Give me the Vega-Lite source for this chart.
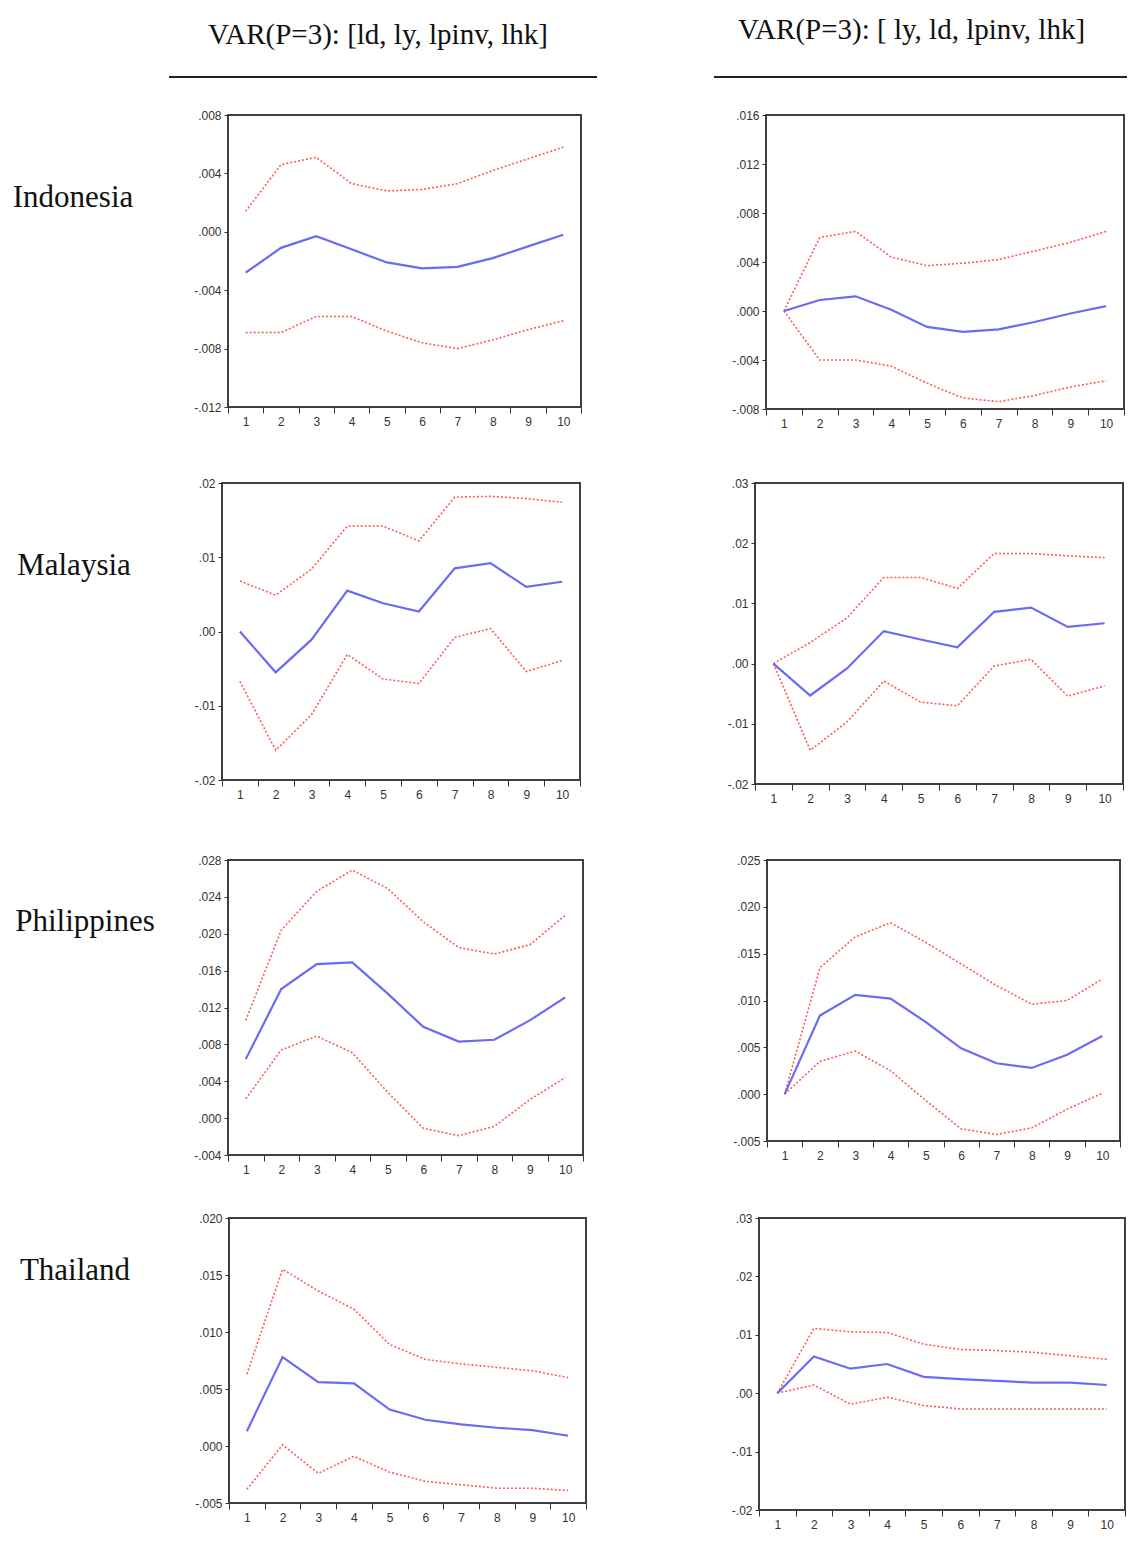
{
"$schema":"https://vega.github.io/schema/vega-lite/v6.json",
"padding":0,
"background":"white",
"spacing":0,
"config":{
 "view":{"stroke":null},
 "axis":{"labelFont":"Liberation Sans","labelColor":"#333333","tickColor":"#333333","domain":false,"grid":false,"labelFontSize":12},
 "axisX":{"tickBand":"extent","labelAngle":0,"tickSize":6,"labelPadding":3},
 "axisY":{"tickSize":4,"labelPadding":3},
 "title":{"font":"Liberation Serif","fontWeight":"normal","fontSize":29,"color":"#111111","baseline":"bottom"}
},
"datasets":{
 "IL":[
  {"h":1,"r":-0.0028,"u":0.0014,"l":-0.0069},{"h":2,"r":-0.0011,"u":0.0046,"l":-0.0069},{"h":3,"r":-0.0003,"u":0.0051,"l":-0.0058},{"h":4,"r":-0.0012,"u":0.0033,"l":-0.0058},{"h":5,"r":-0.0021,"u":0.0028,"l":-0.0068},{"h":6,"r":-0.0025,"u":0.0029,"l":-0.0076},{"h":7,"r":-0.0024,"u":0.0033,"l":-0.0080},{"h":8,"r":-0.0018,"u":0.0042,"l":-0.0074},{"h":9,"r":-0.0010,"u":0.0050,"l":-0.0067},{"h":10,"r":-0.0002,"u":0.0058,"l":-0.0061}],
 "IR":[
  {"h":1,"r":0,"u":0,"l":0},{"h":2,"r":0.0009,"u":0.0060,"l":-0.0040},{"h":3,"r":0.0012,"u":0.0065,"l":-0.0040},{"h":4,"r":0.0001,"u":0.0044,"l":-0.0045},{"h":5,"r":-0.0013,"u":0.0037,"l":-0.0059},{"h":6,"r":-0.0017,"u":0.0039,"l":-0.0071},{"h":7,"r":-0.0015,"u":0.0042,"l":-0.0074},{"h":8,"r":-0.0009,"u":0.0049,"l":-0.0069},{"h":9,"r":-0.0002,"u":0.0056,"l":-0.0062},{"h":10,"r":0.0004,"u":0.0065,"l":-0.0057}],
 "ML":[
  {"h":1,"r":0,"u":0.0068,"l":-0.0067},{"h":2,"r":-0.0055,"u":0.0049,"l":-0.0160},{"h":3,"r":-0.0011,"u":0.0084,"l":-0.0112},{"h":4,"r":0.0055,"u":0.0142,"l":-0.0031},{"h":5,"r":0.0038,"u":0.0142,"l":-0.0064},{"h":6,"r":0.0027,"u":0.0122,"l":-0.0070},{"h":7,"r":0.0085,"u":0.0181,"l":-0.0008},{"h":8,"r":0.0092,"u":0.0182,"l":0.0004},{"h":9,"r":0.0060,"u":0.0179,"l":-0.0054},{"h":10,"r":0.0067,"u":0.0174,"l":-0.0039}],
 "MR":[
  {"h":1,"r":0,"u":0,"l":0},{"h":2,"r":-0.0053,"u":0.0035,"l":-0.0144},{"h":3,"r":-0.0008,"u":0.0076,"l":-0.0097},{"h":4,"r":0.0054,"u":0.0143,"l":-0.0029},{"h":5,"r":0.0040,"u":0.0143,"l":-0.0064},{"h":6,"r":0.0027,"u":0.0125,"l":-0.0070},{"h":7,"r":0.0086,"u":0.0183,"l":-0.0004},{"h":8,"r":0.0093,"u":0.0183,"l":0.0007},{"h":9,"r":0.0061,"u":0.0179,"l":-0.0054},{"h":10,"r":0.0067,"u":0.0176,"l":-0.0037}],
 "PL":[
  {"h":1,"r":0.0064,"u":0.0106,"l":0.0021},{"h":2,"r":0.0140,"u":0.0204,"l":0.0074},{"h":3,"r":0.0167,"u":0.0246,"l":0.0089},{"h":4,"r":0.0169,"u":0.0269,"l":0.0071},{"h":5,"r":0.0135,"u":0.0249,"l":0.0028},{"h":6,"r":0.0099,"u":0.0213,"l":-0.0011},{"h":7,"r":0.0083,"u":0.0185,"l":-0.0019},{"h":8,"r":0.0085,"u":0.0178,"l":-0.0009},{"h":9,"r":0.0106,"u":0.0188,"l":0.0020},{"h":10,"r":0.0131,"u":0.0220,"l":0.0044}],
 "PR":[
  {"h":1,"r":0,"u":0,"l":0},{"h":2,"r":0.0084,"u":0.0135,"l":0.0035},{"h":3,"r":0.0106,"u":0.0168,"l":0.0046},{"h":4,"r":0.0102,"u":0.0183,"l":0.0025},{"h":5,"r":0.0077,"u":0.0162,"l":-0.0007},{"h":6,"r":0.0049,"u":0.0139,"l":-0.0037},{"h":7,"r":0.0033,"u":0.0116,"l":-0.0043},{"h":8,"r":0.0028,"u":0.0096,"l":-0.0036},{"h":9,"r":0.0042,"u":0.0100,"l":-0.0016},{"h":10,"r":0.0062,"u":0.0123,"l":0.0001}],
 "TL":[
  {"h":1,"r":0.0013,"u":0.0063,"l":-0.0038},{"h":2,"r":0.0078,"u":0.0155,"l":0.0001},{"h":3,"r":0.0056,"u":0.0136,"l":-0.0024},{"h":4,"r":0.0055,"u":0.0120,"l":-0.0009},{"h":5,"r":0.0032,"u":0.0089,"l":-0.0023},{"h":6,"r":0.0023,"u":0.0076,"l":-0.0031},{"h":7,"r":0.0019,"u":0.0072,"l":-0.0034},{"h":8,"r":0.0016,"u":0.0069,"l":-0.0037},{"h":9,"r":0.0014,"u":0.0066,"l":-0.0037},{"h":10,"r":0.0009,"u":0.0060,"l":-0.0039}],
 "TR":[
  {"h":1,"r":0,"u":0,"l":0},{"h":2,"r":0.0063,"u":0.0111,"l":0.0014},{"h":3,"r":0.0042,"u":0.0105,"l":-0.0019},{"h":4,"r":0.0050,"u":0.0104,"l":-0.0007},{"h":5,"r":0.0028,"u":0.0084,"l":-0.0021},{"h":6,"r":0.0024,"u":0.0075,"l":-0.0027},{"h":7,"r":0.0021,"u":0.0073,"l":-0.0027},{"h":8,"r":0.0018,"u":0.0070,"l":-0.0027},{"h":9,"r":0.0018,"u":0.0064,"l":-0.0027},{"h":10,"r":0.0014,"u":0.0058,"l":-0.0027}]
},
"vconcat":[
 {"width":1,"height":16,"data":{"values":[]},"mark":"point"},
 {"hconcat":[
   {"width":169,"height":2,"data":{"values":[]},"mark":"point"},
   {"width":428,"height":2,"data":{"values":[]},"mark":"point","view":{"fill":"#222222","stroke":null},"title":{"text":"VAR(P=3): [ld, ly, lpinv, lhk]","offset":26,"dx":-5}},
   {"width":117,"height":2,"data":{"values":[]},"mark":"point"},
   {"width":413,"height":2,"data":{"values":[]},"mark":"point","view":{"fill":"#222222","stroke":null},"title":{"text":"VAR(P=3): [ ly, ld, lpinv, lhk]","offset":31,"dx":-9}}
  ],"spacing":0,"bounds":"flush"},
 {"width":1,"height":30,"data":{"values":[]},"mark":"point"},
 {"hconcat":[
   {"width":146,"height":166,"data":{"values":[{"c":"Indonesia"}]},"mark":{"type":"text","font":"Liberation Serif","fontSize":31,"color":"#111111"},"encoding":{"text":{"field":"c"}}},
   {"width":82,"height":1,"data":{"values":[]},"mark":"point"},
   {"width":353,"height":292,"view":{"stroke":"#404040","strokeWidth":2},"data":{"name":"IL"},"transform":[{"fold":["u","l","r"],"as":["s","v"]}],
    "encoding":{"y":{"field":"v","type":"quantitative","title":null,"scale":{"domain":[-0.012,0.008],"nice":false,"zero":false},"axis":{"values":[-0.012,-0.008,-0.004,0,0.004,0.008],"labelExpr":"replace(replace(format(datum.value,'.3f'),'0.','.'),'\u2212','-')"}}},
    "layer":[
     {"data":{"values":[{}]},"mark":{"type":"rule","color":"#333333","strokeWidth":1.5},"encoding":{"y":{"datum":0,"type":"quantitative","title":null,"scale":{"domain":[-0.012,0.008],"nice":false,"zero":false},"axis":{"values":[-0.012,-0.008,-0.004,0,0.004,0.008],"labelExpr":"replace(replace(format(datum.value,'.3f'),'0.','.'),'\u2212','-')"}}}},
     {"transform":[{"filter":"datum.s != 'r'"}],"mark":{"type":"line","color":"#ff5a5a","strokeWidth":1.6,"strokeDash":[2,2]},"encoding":{"x":{"field":"h","type":"ordinal","title":null,"bandPosition":0.5,"scale":{"type":"band","paddingInner":0,"paddingOuter":0}},"detail":{"field":"s"}}},
     {"transform":[{"filter":"datum.s == 'r'"}],"mark":{"type":"line","color":"#6b6bf2","strokeWidth":2.2},"encoding":{"x":{"field":"h","type":"ordinal","title":null,"bandPosition":0.5,"scale":{"type":"band","paddingInner":0,"paddingOuter":0}}}}
    ]},
   {"width":185,"height":1,"data":{"values":[]},"mark":"point"},
   {"width":358,"height":294,"view":{"stroke":"#404040","strokeWidth":2},"data":{"name":"IR"},"transform":[{"fold":["u","l","r"],"as":["s","v"]}],
    "encoding":{"y":{"field":"v","type":"quantitative","title":null,"scale":{"domain":[-0.008,0.016],"nice":false,"zero":false},"axis":{"values":[-0.008,-0.004,0,0.004,0.008,0.012,0.016],"labelExpr":"replace(replace(format(datum.value,'.3f'),'0.','.'),'\u2212','-')"}}},
    "layer":[
     {"data":{"values":[{}]},"mark":{"type":"rule","color":"#333333","strokeWidth":1.5},"encoding":{"y":{"datum":0,"type":"quantitative","title":null,"scale":{"domain":[-0.008,0.016],"nice":false,"zero":false},"axis":{"values":[-0.008,-0.004,0,0.004,0.008,0.012,0.016],"labelExpr":"replace(replace(format(datum.value,'.3f'),'0.','.'),'\u2212','-')"}}}},
     {"transform":[{"filter":"datum.s != 'r'"}],"mark":{"type":"line","color":"#ff5a5a","strokeWidth":1.6,"strokeDash":[2,2]},"encoding":{"x":{"field":"h","type":"ordinal","title":null,"bandPosition":0.5,"scale":{"type":"band","paddingInner":0,"paddingOuter":0}},"detail":{"field":"s"}}},
     {"transform":[{"filter":"datum.s == 'r'"}],"mark":{"type":"line","color":"#6b6bf2","strokeWidth":2.2},"encoding":{"x":{"field":"h","type":"ordinal","title":null,"bandPosition":0.5,"scale":{"type":"band","paddingInner":0,"paddingOuter":0}}}}
    ]}
  ],"spacing":0,"bounds":"flush"},
 {"width":1,"height":46,"data":{"values":[]},"mark":"point"},
 {"hconcat":[
   {"width":148,"height":166,"data":{"values":[{"c":"Malaysia"}]},"mark":{"type":"text","font":"Liberation Serif","fontSize":31,"color":"#111111"},"encoding":{"text":{"field":"c"}}},
   {"width":74,"height":1,"data":{"values":[]},"mark":"point"},
   {"width":358,"height":297,"view":{"stroke":"#404040","strokeWidth":2},"data":{"name":"ML"},"transform":[{"fold":["u","l","r"],"as":["s","v"]}],
    "encoding":{"y":{"field":"v","type":"quantitative","title":null,"scale":{"domain":[-0.02,0.02],"nice":false,"zero":false},"axis":{"values":[-0.02,-0.01,0,0.01,0.02],"labelExpr":"replace(replace(format(datum.value,'.2f'),'0.','.'),'\u2212','-')"}}},
    "layer":[
     {"data":{"values":[{}]},"mark":{"type":"rule","color":"#333333","strokeWidth":1.5},"encoding":{"y":{"datum":0,"type":"quantitative","title":null,"scale":{"domain":[-0.02,0.02],"nice":false,"zero":false},"axis":{"values":[-0.02,-0.01,0,0.01,0.02],"labelExpr":"replace(replace(format(datum.value,'.2f'),'0.','.'),'\u2212','-')"}}}},
     {"transform":[{"filter":"datum.s != 'r'"}],"mark":{"type":"line","color":"#ff5a5a","strokeWidth":1.6,"strokeDash":[2,2]},"encoding":{"x":{"field":"h","type":"ordinal","title":null,"bandPosition":0.5,"scale":{"type":"band","paddingInner":0,"paddingOuter":0}},"detail":{"field":"s"}}},
     {"transform":[{"filter":"datum.s == 'r'"}],"mark":{"type":"line","color":"#6b6bf2","strokeWidth":2.2},"encoding":{"x":{"field":"h","type":"ordinal","title":null,"bandPosition":0.5,"scale":{"type":"band","paddingInner":0,"paddingOuter":0}}}}
    ]},
   {"width":175,"height":1,"data":{"values":[]},"mark":"point"},
   {"width":368,"height":301,"view":{"stroke":"#404040","strokeWidth":2},"data":{"name":"MR"},"transform":[{"fold":["u","l","r"],"as":["s","v"]}],
    "encoding":{"y":{"field":"v","type":"quantitative","title":null,"scale":{"domain":[-0.02,0.03],"nice":false,"zero":false},"axis":{"values":[-0.02,-0.01,0,0.01,0.02,0.03],"labelExpr":"replace(replace(format(datum.value,'.2f'),'0.','.'),'\u2212','-')"}}},
    "layer":[
     {"data":{"values":[{}]},"mark":{"type":"rule","color":"#333333","strokeWidth":1.5},"encoding":{"y":{"datum":0,"type":"quantitative","title":null,"scale":{"domain":[-0.02,0.03],"nice":false,"zero":false},"axis":{"values":[-0.02,-0.01,0,0.01,0.02,0.03],"labelExpr":"replace(replace(format(datum.value,'.2f'),'0.','.'),'\u2212','-')"}}}},
     {"transform":[{"filter":"datum.s != 'r'"}],"mark":{"type":"line","color":"#ff5a5a","strokeWidth":1.6,"strokeDash":[2,2]},"encoding":{"x":{"field":"h","type":"ordinal","title":null,"bandPosition":0.5,"scale":{"type":"band","paddingInner":0,"paddingOuter":0}},"detail":{"field":"s"}}},
     {"transform":[{"filter":"datum.s == 'r'"}],"mark":{"type":"line","color":"#6b6bf2","strokeWidth":2.2},"encoding":{"x":{"field":"h","type":"ordinal","title":null,"bandPosition":0.5,"scale":{"type":"band","paddingInner":0,"paddingOuter":0}}}}
    ]}
  ],"spacing":0,"bounds":"flush"},
 {"width":1,"height":48,"data":{"values":[]},"mark":"point"},
 {"hconcat":[
   {"width":170,"height":124,"data":{"values":[{"c":"Philippines"}]},"mark":{"type":"text","font":"Liberation Serif","fontSize":31,"color":"#111111"},"encoding":{"text":{"field":"c"}}},
   {"width":58,"height":1,"data":{"values":[]},"mark":"point"},
   {"width":355,"height":295,"view":{"stroke":"#404040","strokeWidth":2},"data":{"name":"PL"},"transform":[{"fold":["u","l","r"],"as":["s","v"]}],
    "encoding":{"y":{"field":"v","type":"quantitative","title":null,"scale":{"domain":[-0.004,0.028],"nice":false,"zero":false},"axis":{"values":[-0.004,0,0.004,0.008,0.012,0.016,0.02,0.024,0.028],"labelExpr":"replace(replace(format(datum.value,'.3f'),'0.','.'),'\u2212','-')"}}},
    "layer":[
     {"data":{"values":[{}]},"mark":{"type":"rule","color":"#333333","strokeWidth":1.5},"encoding":{"y":{"datum":0,"type":"quantitative","title":null,"scale":{"domain":[-0.004,0.028],"nice":false,"zero":false},"axis":{"values":[-0.004,0,0.004,0.008,0.012,0.016,0.02,0.024,0.028],"labelExpr":"replace(replace(format(datum.value,'.3f'),'0.','.'),'\u2212','-')"}}}},
     {"transform":[{"filter":"datum.s != 'r'"}],"mark":{"type":"line","color":"#ff5a5a","strokeWidth":1.6,"strokeDash":[2,2]},"encoding":{"x":{"field":"h","type":"ordinal","title":null,"bandPosition":0.5,"scale":{"type":"band","paddingInner":0,"paddingOuter":0}},"detail":{"field":"s"}}},
     {"transform":[{"filter":"datum.s == 'r'"}],"mark":{"type":"line","color":"#6b6bf2","strokeWidth":2.2},"encoding":{"x":{"field":"h","type":"ordinal","title":null,"bandPosition":0.5,"scale":{"type":"band","paddingInner":0,"paddingOuter":0}}}}
    ]},
   {"width":184,"height":1,"data":{"values":[]},"mark":"point"},
   {"width":353,"height":281,"view":{"stroke":"#404040","strokeWidth":2},"data":{"name":"PR"},"transform":[{"fold":["u","l","r"],"as":["s","v"]}],
    "encoding":{"y":{"field":"v","type":"quantitative","title":null,"scale":{"domain":[-0.005,0.025],"nice":false,"zero":false},"axis":{"values":[-0.005,0,0.005,0.01,0.015,0.02,0.025],"labelExpr":"replace(replace(format(datum.value,'.3f'),'0.','.'),'\u2212','-')"}}},
    "layer":[
     {"data":{"values":[{}]},"mark":{"type":"rule","color":"#333333","strokeWidth":1.5},"encoding":{"y":{"datum":0,"type":"quantitative","title":null,"scale":{"domain":[-0.005,0.025],"nice":false,"zero":false},"axis":{"values":[-0.005,0,0.005,0.01,0.015,0.02,0.025],"labelExpr":"replace(replace(format(datum.value,'.3f'),'0.','.'),'\u2212','-')"}}}},
     {"transform":[{"filter":"datum.s != 'r'"}],"mark":{"type":"line","color":"#ff5a5a","strokeWidth":1.6,"strokeDash":[2,2]},"encoding":{"x":{"field":"h","type":"ordinal","title":null,"bandPosition":0.5,"scale":{"type":"band","paddingInner":0,"paddingOuter":0}},"detail":{"field":"s"}}},
     {"transform":[{"filter":"datum.s == 'r'"}],"mark":{"type":"line","color":"#6b6bf2","strokeWidth":2.2},"encoding":{"x":{"field":"h","type":"ordinal","title":null,"bandPosition":0.5,"scale":{"type":"band","paddingInner":0,"paddingOuter":0}}}}
    ]}
  ],"spacing":0,"bounds":"flush"},
 {"width":1,"height":35,"data":{"values":[]},"mark":"point"},
 {"hconcat":[
   {"width":150,"height":106,"data":{"values":[{"c":"Thailand"}]},"mark":{"type":"text","font":"Liberation Serif","fontSize":31,"color":"#111111"},"encoding":{"text":{"field":"c"}}},
   {"width":79,"height":1,"data":{"values":[]},"mark":"point"},
   {"width":357,"height":285,"view":{"stroke":"#404040","strokeWidth":2},"data":{"name":"TL"},"transform":[{"fold":["u","l","r"],"as":["s","v"]}],
    "encoding":{"y":{"field":"v","type":"quantitative","title":null,"scale":{"domain":[-0.005,0.02],"nice":false,"zero":false},"axis":{"values":[-0.005,0,0.005,0.01,0.015,0.02],"labelExpr":"replace(replace(format(datum.value,'.3f'),'0.','.'),'\u2212','-')"}}},
    "layer":[
     {"data":{"values":[{}]},"mark":{"type":"rule","color":"#333333","strokeWidth":1.5},"encoding":{"y":{"datum":0,"type":"quantitative","title":null,"scale":{"domain":[-0.005,0.02],"nice":false,"zero":false},"axis":{"values":[-0.005,0,0.005,0.01,0.015,0.02],"labelExpr":"replace(replace(format(datum.value,'.3f'),'0.','.'),'\u2212','-')"}}}},
     {"transform":[{"filter":"datum.s != 'r'"}],"mark":{"type":"line","color":"#ff5a5a","strokeWidth":1.6,"strokeDash":[2,2]},"encoding":{"x":{"field":"h","type":"ordinal","title":null,"bandPosition":0.5,"scale":{"type":"band","paddingInner":0,"paddingOuter":0}},"detail":{"field":"s"}}},
     {"transform":[{"filter":"datum.s == 'r'"}],"mark":{"type":"line","color":"#6b6bf2","strokeWidth":2.2},"encoding":{"x":{"field":"h","type":"ordinal","title":null,"bandPosition":0.5,"scale":{"type":"band","paddingInner":0,"paddingOuter":0}}}}
    ]},
   {"width":173,"height":1,"data":{"values":[]},"mark":"point"},
   {"width":366,"height":292,"view":{"stroke":"#404040","strokeWidth":2},"data":{"name":"TR"},"transform":[{"fold":["u","l","r"],"as":["s","v"]}],
    "encoding":{"y":{"field":"v","type":"quantitative","title":null,"scale":{"domain":[-0.02,0.03],"nice":false,"zero":false},"axis":{"values":[-0.02,-0.01,0,0.01,0.02,0.03],"labelExpr":"replace(replace(format(datum.value,'.2f'),'0.','.'),'\u2212','-')"}}},
    "layer":[
     {"data":{"values":[{}]},"mark":{"type":"rule","color":"#333333","strokeWidth":1.5},"encoding":{"y":{"datum":0,"type":"quantitative","title":null,"scale":{"domain":[-0.02,0.03],"nice":false,"zero":false},"axis":{"values":[-0.02,-0.01,0,0.01,0.02,0.03],"labelExpr":"replace(replace(format(datum.value,'.2f'),'0.','.'),'\u2212','-')"}}}},
     {"transform":[{"filter":"datum.s != 'r'"}],"mark":{"type":"line","color":"#ff5a5a","strokeWidth":1.6,"strokeDash":[2,2]},"encoding":{"x":{"field":"h","type":"ordinal","title":null,"bandPosition":0.5,"scale":{"type":"band","paddingInner":0,"paddingOuter":0}},"detail":{"field":"s"}}},
     {"transform":[{"filter":"datum.s == 'r'"}],"mark":{"type":"line","color":"#6b6bf2","strokeWidth":2.2},"encoding":{"x":{"field":"h","type":"ordinal","title":null,"bandPosition":0.5,"scale":{"type":"band","paddingInner":0,"paddingOuter":0}}}}
    ]}
  ],"spacing":0,"bounds":"flush"}
]
}
